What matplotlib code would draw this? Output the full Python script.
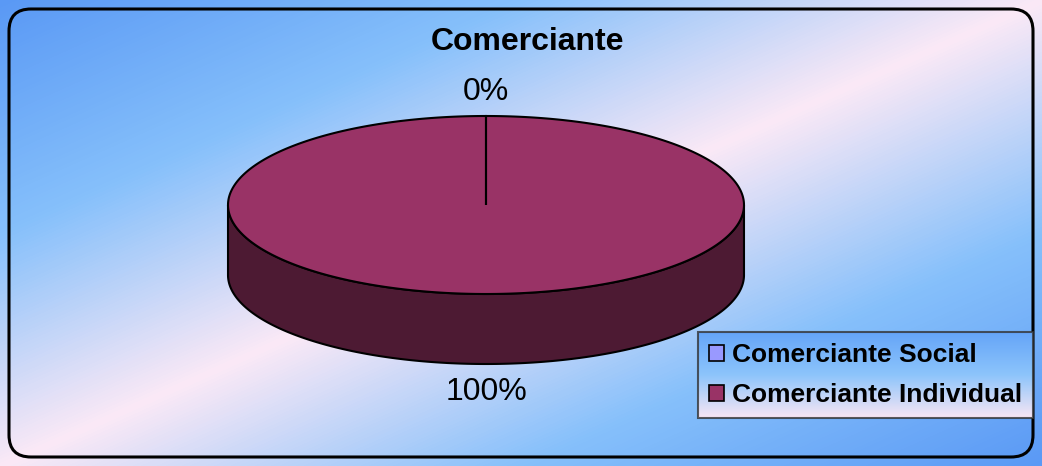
import numpy as np
import matplotlib
matplotlib.use("Agg")
import matplotlib.pyplot as plt
from matplotlib.patches import Polygon, FancyBboxPatch, Patch
from matplotlib.colors import LinearSegmentedColormap

plt.rcParams['font.family'] = ['Liberation Sans', 'DejaVu Sans']

# ---- data ----
title = "Comerciante"
categories = ["Comerciante Social", "Comerciante Individual"]
values = [0, 100]
top_colors = ["#9999ff", "#993366"]
side_colors = ["#4d4d80", "#4d1a33"]

W, H = 1042, 466
fig = plt.figure(figsize=(W / 100, H / 100), dpi=100)

# background gradient
bg = fig.add_axes([0, 0, 1, 1])
bg.set_axis_off()
yy, xx = np.mgrid[0:H, 0:W]
t = (xx / W + yy / H) / 2.0
bg_cmap = LinearSegmentedColormap.from_list(
    "bg", [(0, "#5a99f5"), (0.25, "#86c0fb"), (0.5, "#fbe9f6"), (0.75, "#86c0fb"), (1.0, "#5a99f5")])
bg.imshow(t, cmap=bg_cmap, vmin=0, vmax=1, extent=[0, W, H, 0], aspect='auto')
bg.set_xlim(0, W)
bg.set_ylim(H, 0)
bg.add_patch(FancyBboxPatch((9, 9), W - 18, H - 18,
                            boxstyle="round,pad=0,rounding_size=22",
                            fc="none", ec="black", lw=2.2, zorder=10))

# pie axes in pixel coordinates
ax = fig.add_axes([0, 0, 1, 1], facecolor="none")
ax.set_axis_off()
ax.set_xlim(0, W)
ax.set_ylim(H, 0)

cx, cy, rx, ry, depth = 486, 205, 258, 89, 70
total = float(sum(values))
fracs = [v / total for v in values]

def pt(a):
    r = np.radians(a)
    return cx + rx * np.cos(r), cy - ry * np.sin(r)

start = 90.0
wedges = []
for f in fracs:
    a1 = start
    a2 = start - 360.0 * f
    wedges.append((a1, a2))
    start = a2

for (a1, a2), sc in zip(wedges, side_colors):
    if a1 == a2:
        continue
    angs = np.linspace(a2, a1, 400)
    angs_m = np.mod(angs, 360)
    mask = angs_m >= 180
    if not mask.any():
        continue
    sel = np.sort(angs_m[mask])
    xs, ys = pt(sel)
    poly = np.vstack([np.column_stack([xs, ys]),
                      np.column_stack([xs[::-1], ys[::-1] + depth])])
    ax.add_patch(Polygon(poly, closed=True, fc=sc, ec="black", lw=1.5, zorder=2))

for (a1, a2), tc in zip(wedges, top_colors):
    if a1 == a2:
        continue
    angs = np.linspace(a1, a2, 400)
    xs, ys = pt(angs)
    poly = np.vstack([[cx, cy], np.column_stack([xs, ys]), [cx, cy]])
    ax.add_patch(Polygon(poly, closed=True, fc=tc, ec="black", lw=1.5, zorder=3))

for (a1, a2), v in zip(wedges, values):
    mid = (a1 + a2) / 2.0
    x, y = pt(mid)
    if np.sin(np.radians(mid)) < 0:
        y += depth + 28
    else:
        y -= 24
    ax.text(x, y, f"{v}%", ha="center", va="center", fontsize=23, zorder=5)

fig.text(528 / W, 1 - 42 / H, title, ha="center", va="center",
         fontsize=23, fontweight="bold")

# legend
handles = [Patch(fc=c, ec="black", lw=1.2) for c in top_colors]
leg = fig.legend(handles, categories, loc="lower right",
                 bbox_to_anchor=(1033 / W, 1 - 418 / H),
                 prop={"weight": "bold", "size": 19},
                 frameon=True, fancybox=False, edgecolor="#333333",
                 facecolor="none",
                 handlelength=0.55, handleheight=0.55, handletextpad=0.3,
                 labelspacing=0.6, borderpad=0.42, borderaxespad=0)
leg.get_frame().set_linewidth(1.5)
leg.set_zorder(20)
fig.canvas.draw()
bb = leg.get_window_extent().transformed(fig.transFigure.inverted())
lax = fig.add_axes([bb.x0, bb.y0, bb.width, bb.height], zorder=5)
lax.set_axis_off()
leg_cmap = LinearSegmentedColormap.from_list("lg", ["#64a4f8", "#8cc4fb", "#f8e6f4"])
lax.imshow(np.linspace(0, 1, 200).reshape(-1, 1), cmap=leg_cmap, aspect='auto',
           extent=[0, 1, 1, 0])
lax.set_xlim(0, 1)
lax.set_ylim(1, 0)

fig.savefig("out.png", dpi=100)
